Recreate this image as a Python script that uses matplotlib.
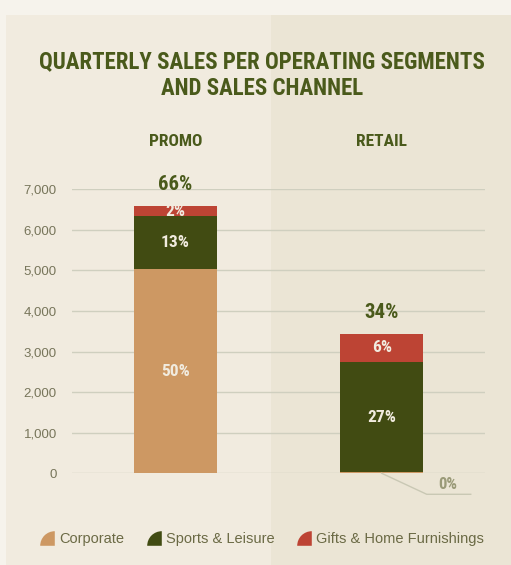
import numpy as np
import matplotlib
matplotlib.use('Agg')
import matplotlib.pyplot as plt
from matplotlib.patches import Rectangle
from matplotlib.lines import Line2D
from matplotlib.path import Path

# data (sales, in thousands of units)
channels = ['PROMO', 'RETAIL']
segments = ['Corporate', 'Sports & Leisure', 'Gifts & Home Furnishings']
corporate = [5030, 25]
sports = [1310, 2725]
gifts = [250, 685]
seg_labels = [['50%', '0%'], ['13%', '27%'], ['2%', '6%']]
total_labels = ['66%', '34%']
yticks = [0, 1000, 2000, 3000, 4000, 5000, 6000, 7000]

colors = ['#cd9863', '#414b12', '#bd4434']
dark = '#4a5a1b'
muted = '#77755a'
cream = '#f1ebdf'
cond = ['Roboto Condensed', 'Liberation Sans']

W, H = 511, 565
fig = plt.figure(figsize=(W / 100, H / 100), dpi=100, facecolor='#f6f3ec')

# panel background, two shades
fig.patches.append(Rectangle((6 / W, 0), (271 - 6) / W, 1 - 15 / H, transform=fig.transFigure,
                             facecolor='#f1ebdf', edgecolor='none', zorder=-2))
fig.patches.append(Rectangle((271 / W, 0), (W - 271) / W, 1 - 15 / H, transform=fig.transFigure,
                             facecolor='#ebe5d5', edgecolor='none', zorder=-2))

ax = fig.add_axes([72 / W, (H - 473.3) / H, 413 / W, 284 / H])
ax.set_facecolor('none')

x = np.arange(len(channels))
series = [corporate, sports, gifts]
bottom = np.zeros(len(channels))
for vals, col, labs in zip(series, colors, seg_labels):
    vals = np.array(vals)
    ax.bar(x, vals, width=0.4, bottom=bottom, color=col, zorder=3)
    for i in range(len(channels)):
        if labs[i] == '0%':
            continue
        ax.text(x[i], bottom[i] + vals[i] / 2, labs[i], ha='center', va='center',
                color=cream, fontsize=12.5, fontweight='bold', family=cond, zorder=4)
    bottom = bottom + vals

for i, lab in enumerate(total_labels):
    ax.annotate(lab, (x[i], bottom[i]), xytext=(0, 15.5), textcoords='offset points',
                ha='center', va='center', color=dark, fontsize=15, fontweight='bold',
                family=cond)

ax.set_xlim(-0.5, 1.5)
ax.set_ylim(0, 7000)
ax.set_yticks(yticks)
ax.set_yticklabels([f'{v:,}' for v in yticks])
ax.set_xticks([])
ax.tick_params(axis='y', length=0, pad=11, labelsize=9.5, labelcolor=muted)
for lbl in ax.get_yticklabels():
    lbl.set_family('Liberation Sans')
ax.grid(axis='y', color='#cfcfbf', lw=1, zorder=0)
for s in ax.spines.values():
    s.set_visible(False)

# channel headers
for i, ch in enumerate(channels):
    ax.text(x[i], (473.3 - 142) / 284, ch, transform=ax.get_xaxis_transform(),
            ha='center', va='center', color=dark, fontsize=12.5, fontweight='bold',
            family=cond)

# leader for the tiny retail corporate slice
px, py = ax.transData.transform((x[1], 0))
fig.lines.append(Line2D([px, px + 45, px + 89], [py, py - 21, py - 21], transform=None,
                        color='#c9c8b4', lw=1))
fig.text(px + 66, py - 11, seg_labels[0][1], transform=None, ha='center', va='center',
         color='#9a9a78', fontsize=12, fontweight='bold', family=cond)

fig.text(262 / W, 1 - 75 / H, 'QUARTERLY SALES PER OPERATING SEGMENTS\nAND SALES CHANNEL',
         ha='center', va='center', color=dark, fontsize=16.5, fontweight='bold',
         linespacing=1.2, family=cond)

# legend with quarter-disc markers, centred on the handle
w = Path.wedge(90, 180)
qmark = Path(w.vertices + [0.5, -0.5], w.codes)
handles = [Line2D([], [], marker=qmark, ls='none', markersize=10.5, color=c, markeredgewidth=0)
           for c in colors]
leg = fig.legend(handles, segments, loc='center', bbox_to_anchor=(262 / W, 1 - 539 / H),
                 ncol=3, frameon=False, handletextpad=0.35, columnspacing=1.5,
                 handlelength=1.0, prop={'family': 'Liberation Sans', 'size': 10.5})
for t in leg.get_texts():
    t.set_color('#6b6a45')

fig.savefig('out.png', dpi=100, facecolor=fig.get_facecolor())
